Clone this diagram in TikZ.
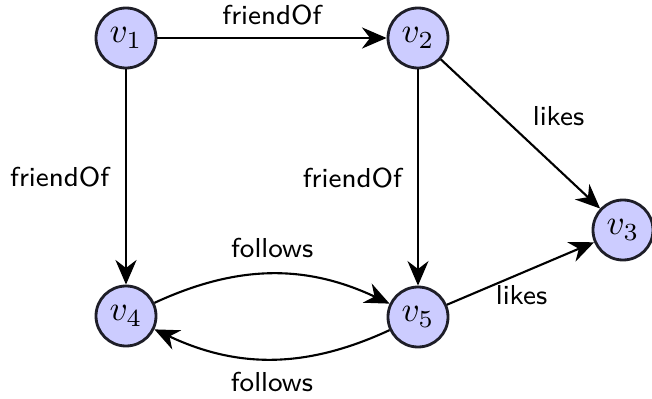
\documentclass[tikz,border=0pt]{standalone}
\usepackage{amsmath,amssymb}
\usepackage{tikz}
\usetikzlibrary{arrows.meta, positioning, calc}
\usepackage{xcolor}
\definecolor{vfill}{RGB}{204,204,255}
\definecolor{vline}{RGB}{30,30,40}

\begin{document}
\begin{tikzpicture}[
    vert/.style={circle, draw=vline, thick, fill=vfill, minimum size=0.6cm, inner sep=0pt, font=\fontsize{10}{12}\selectfont},
    rel/.style={-{Stealth[length=7pt,width=6pt]}, semithick},
    lbl/.style={font=\sffamily\fontsize{7.8}{9.5}\selectfont}
  ]
  \useasboundingbox (0,0) rectangle (6.52,3.98);
  % Vertices
  \node[vert] (v1) at (1.26, 3.60) {$v_1$};
  \node[vert] (v2) at (4.18, 3.60) {$v_2$};
  \node[vert] (v3) at (6.23, 1.68) {$v_3$};
  \node[vert] (v4) at (1.26, 0.82) {$v_4$};
  \node[vert] (v5) at (4.18, 0.81) {$v_5$};
  % friendOf
  \draw[rel, thick] (v1) -- node[lbl, above] {friendOf} (v2);
  \draw[rel, thick] (v1) -- node[lbl, left, xshift=-1pt] {friendOf} (v4);
  \draw[rel, thin] (v2) -- node[lbl, left, xshift=-1pt] {friendOf} (v5);
  % likes
  \draw[rel] (v2) -- node[lbl, xshift=0.38cm, yshift=0.18cm] {likes} (v3);
  \draw[rel] (v5) -- node[lbl, xshift=0.01cm, yshift=-0.22cm] {likes} (v3);
  % follows
  \draw[rel] (v4) to[bend left=25] node[lbl, above, yshift=1pt] {follows} (v5);
  \draw[rel] (v5) to[bend left=25] node[lbl, below] {follows} (v4);
\end{tikzpicture}
\end{document}
